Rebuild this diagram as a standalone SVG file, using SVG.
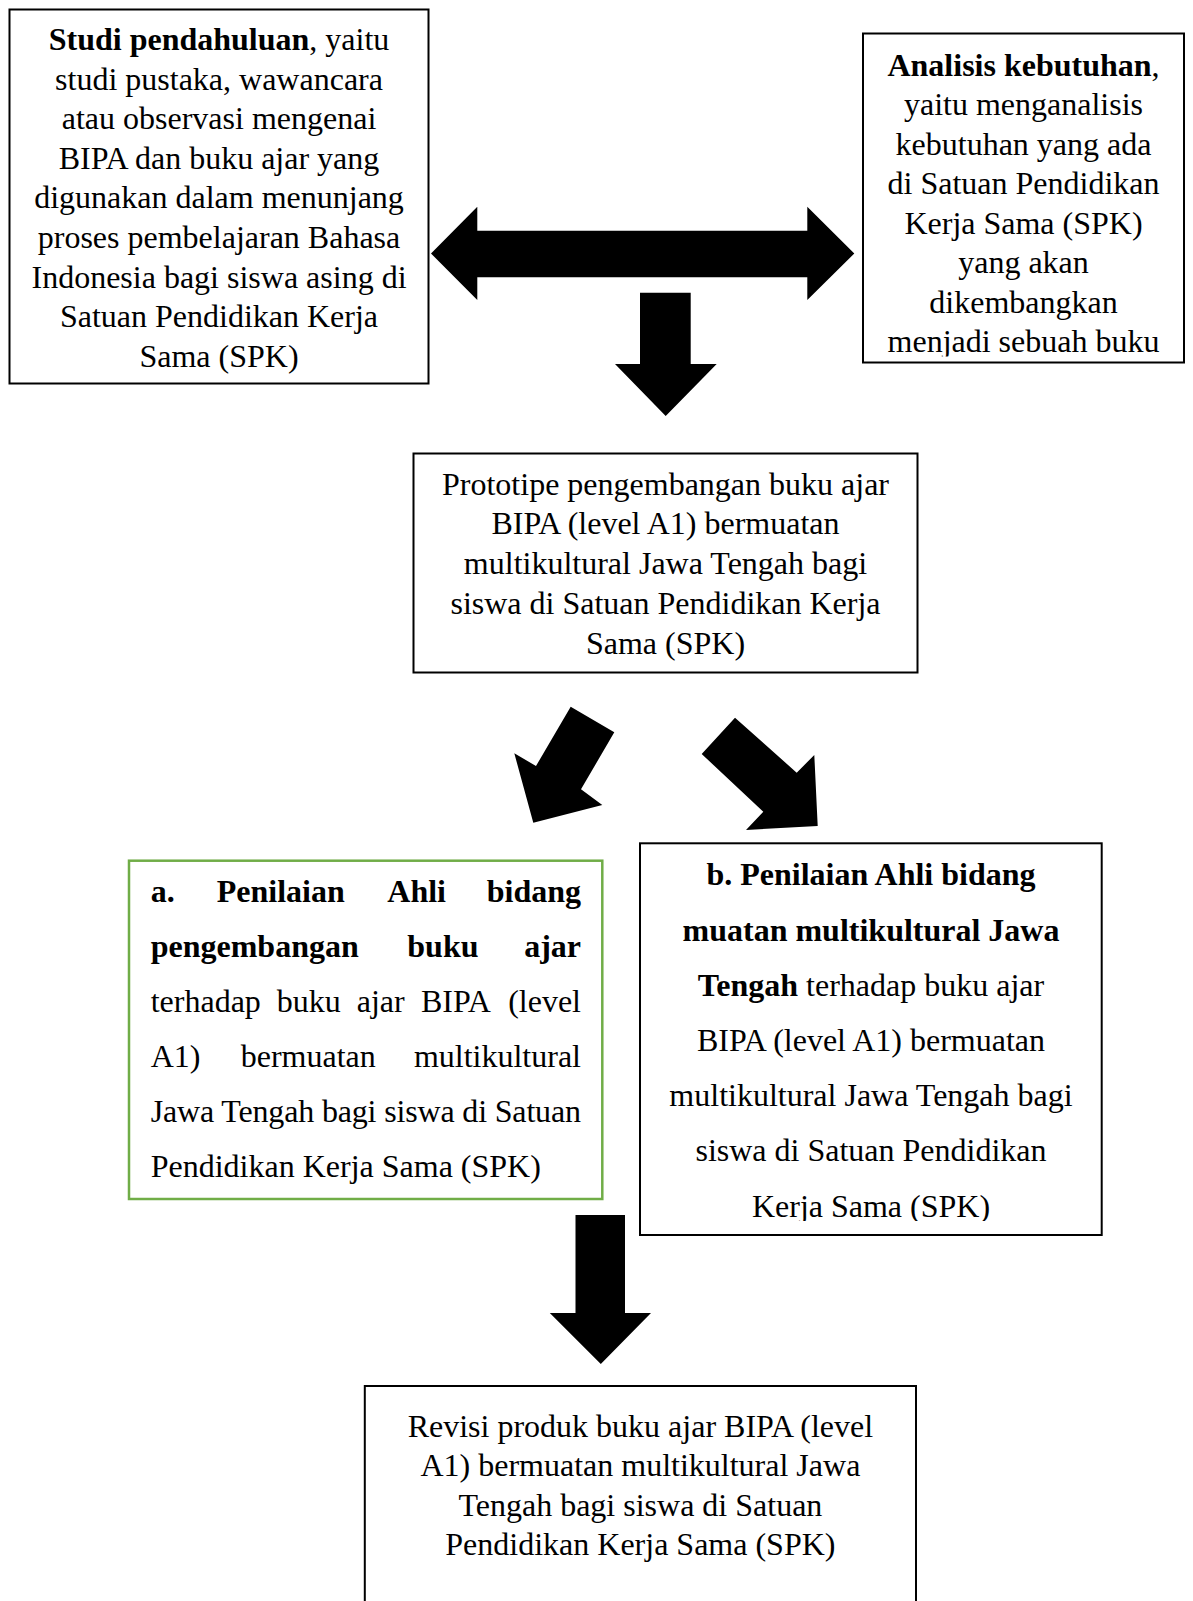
<svg xmlns="http://www.w3.org/2000/svg" width="1193" height="1601" viewBox="0 0 1193 1601">
<style>
text{font-family:"Liberation Serif","Times New Roman",serif;font-size:32px;fill:#000}
.c{text-anchor:middle}
.e{text-anchor:end}
.b{font-weight:bold}
.box{fill:#fff;stroke:#000;stroke-width:2}
.green{fill:#fff;stroke:#70AD47;stroke-width:2.5}
.arr{fill:#000;stroke:none}
</style>
<defs>
<clipPath id="clip2"><rect x="863" y="33" width="321" height="323.5"/></clipPath>
<clipPath id="clipb"><rect x="640" y="843" width="462" height="378"/></clipPath>
</defs>
<rect width="1193" height="1601" fill="#fff"/>

<g id="connectors">
<path class="arr" d="M431,253.5 L477.3,206.7 L477.3,230.7 L807.3,230.7 L807.3,206.7 L854.3,253.5 L807.3,300 L807.3,277.3 L477.3,277.3 L477.3,300 Z"/>
<path class="arr" d="M640,292.7 L690.7,292.7 L690.7,364 L716.7,364 L665.7,416 L615,364 L640,364 Z"/>
<path class="arr" d="M570.7,706.7 L614.3,732.3 L581,789.3 L602.3,805 L533.3,822.7 L514.3,753.3 L536,766 Z"/>
<path class="arr" d="M735,717.7 L796.7,772.7 L814.3,755 L817.7,826 L746,830 L763.3,811.7 L701.7,754 Z"/>
<path class="arr" d="M575.5,1215 L625,1215 L625,1313 L651,1313 L600.8,1364 L549.8,1313 L575.5,1313 Z"/>
</g>

<g id="node-studi">
<rect class="box" x="9.5" y="9.5" width="419" height="374"/>
<text class="c" x="219" y="50"><tspan class="b">Studi pendahuluan</tspan>, yaitu</text>
<text class="c" x="219" y="89.6">studi pustaka, wawancara</text>
<text class="c" x="219" y="129.2">atau observasi mengenai</text>
<text class="c" x="219" y="168.8">BIPA dan buku ajar yang</text>
<text class="c" x="219" y="208.4">digunakan dalam menunjang</text>
<text class="c" x="219" y="248">proses pembelajaran Bahasa</text>
<text class="c" x="219" y="287.6">Indonesia bagi siswa asing di</text>
<text class="c" x="219" y="327.2">Satuan Pendidikan Kerja</text>
<text class="c" x="219" y="366.8">Sama (SPK)</text>
</g>

<g id="node-analisis">
<rect class="box" x="863" y="33.5" width="321" height="329"/>
<g clip-path="url(#clip2)">
<text class="c" x="1023.5" y="75.8"><tspan class="b">Analisis kebutuhan</tspan>,</text>
<text class="c" x="1023.5" y="115.3">yaitu menganalisis</text>
<text class="c" x="1023.5" y="154.8">kebutuhan yang ada</text>
<text class="c" x="1023.5" y="194.3">di Satuan Pendidikan</text>
<text class="c" x="1023.5" y="233.8">Kerja Sama (SPK)</text>
<text class="c" x="1023.5" y="273.3">yang akan</text>
<text class="c" x="1023.5" y="312.8">dikembangkan</text>
<text class="c" x="1023.5" y="352.3">menjadi sebuah buku</text>
</g>
</g>

<g id="node-prototipe">
<rect class="box" x="413.5" y="453.5" width="504" height="219"/>
<text class="c" x="665.5" y="494.5">Prototipe pengembangan buku ajar</text>
<text class="c" x="665.5" y="534.3">BIPA (level A1) bermuatan</text>
<text class="c" x="665.5" y="574">multikultural Jawa Tengah bagi</text>
<text class="c" x="665.5" y="613.8">siswa di Satuan Pendidikan Kerja</text>
<text class="c" x="665.5" y="653.5">Sama (SPK)</text>
</g>

<g id="node-ahli-a">
<rect class="green" x="129" y="860.7" width="473.3" height="338.3"/>
<text class="b" x="150.7" y="901.7">a.</text>
<text class="b" x="216.7" y="901.7">Penilaian</text>
<text class="b" x="387.3" y="901.7">Ahli</text>
<text class="b e" x="581" y="901.7">bidang</text>
<text class="b" x="150.7" y="956.7">pengembangan</text>
<text class="b" x="407.3" y="956.7">buku</text>
<text class="b e" x="581" y="956.7">ajar</text>
<text x="150.7" y="1011.7">terhadap</text>
<text x="276.7" y="1011.7">buku</text>
<text x="356.7" y="1011.7">ajar</text>
<text x="421" y="1011.7">BIPA</text>
<text class="e" x="581" y="1011.7">(level</text>
<text x="150.7" y="1066.7">A1)</text>
<text x="240.7" y="1066.7">bermuatan</text>
<text class="e" x="581" y="1066.7">multikultural</text>
<text x="150.7" y="1121.7" textLength="430.3" lengthAdjust="spacing">Jawa Tengah bagi siswa di Satuan</text>
<text x="150.7" y="1176.7">Pendidikan Kerja Sama (SPK)</text>
</g>

<g id="node-ahli-b">
<rect class="box" x="640" y="843.3" width="461.7" height="391.7"/>
<g clip-path="url(#clipb)">
<text class="c b" x="871" y="885.4">b. Penilaian Ahli bidang</text>
<text class="c b" x="871" y="940.6">muatan multikultural Jawa</text>
<text class="c" x="871" y="995.8"><tspan class="b">Tengah</tspan> terhadap buku ajar</text>
<text class="c" x="871" y="1051">BIPA (level A1) bermuatan</text>
<text class="c" x="871" y="1106.2">multikultural Jawa Tengah bagi</text>
<text class="c" x="871" y="1161.4">siswa di Satuan Pendidikan</text>
<text class="c" x="871" y="1216.6">Kerja Sama (SPK)</text>
</g>
</g>

<g id="node-revisi">
<rect class="box" x="364.8" y="1386" width="551.2" height="240"/>
<text class="c" x="640.4" y="1436.7">Revisi produk buku ajar BIPA (level</text>
<text class="c" x="640.4" y="1476.2">A1) bermuatan multikultural Jawa</text>
<text class="c" x="640.4" y="1515.7">Tengah bagi siswa di Satuan</text>
<text class="c" x="640.4" y="1555.2">Pendidikan Kerja Sama (SPK)</text>
</g>
</svg>
